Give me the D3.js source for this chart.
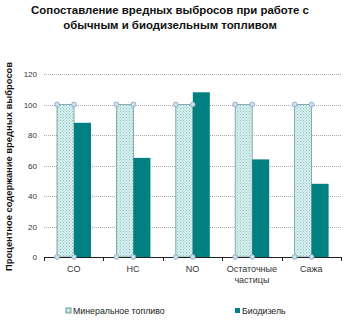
<!DOCTYPE html>
<html>
<head>
<meta charset="utf-8">
<script src="https://cdn.jsdelivr.net/npm/d3@7/dist/d3.min.js"></script>
<style>
  html, body { margin: 0; padding: 0; background: #fff; }
  svg { display: block; font-family: "Liberation Sans", Arial, sans-serif; }
</style>
</head>
<body>
<svg id="chart" width="344" height="323"></svg>
<script>
// Emission categories and relative emission levels (%)
const categories = ["CO", "HC", "NO", "Остаточные\nчастицы", "Сажа"];
const mineralValues = [100, 100, 100, 100, 100];
const biodieselValues = [88, 65, 108, 64, 48];
const seriesNames = ["Минеральное топливо", "Биодизель"];
const yTicks = [0, 20, 40, 60, 80, 100, 120];

const svg = d3.select("#chart");
const margin = { left: 44, right: 3, top: 74, bottom: 66 };
const W = 344, H = 323;

// Hatched fill for the mineral fuel bars
const defs = svg.append("defs");
const pat = defs.append("pattern")
  .attr("id", "hatch").attr("patternUnits", "userSpaceOnUse")
  .attr("width", 3).attr("height", 3);
pat.append("rect").attr("width", 3).attr("height", 3).attr("fill", "#d6eeee");
pat.append("rect").attr("x", 0).attr("y", 0).attr("width", 1).attr("height", 1).attr("fill", "#8cc4c4");
pat.append("rect").attr("x", 1.5).attr("y", 1.5).attr("width", 1).attr("height", 1).attr("fill", "#a8d4d4");

const x = d3.scaleBand().domain(categories).range([margin.left, W - margin.right]).paddingInner(0).paddingOuter(0);
const y = d3.scaleLinear().domain([0, 120]).range([H - margin.bottom, margin.top]);

// Title
svg.append("text").attr("x", 170).attr("y", 14).attr("text-anchor", "middle")
  .attr("font-size", 11.4).attr("font-weight", "bold").attr("fill", "#111")
  .text("Сопоставление вредных выбросов при работе с");
svg.append("text").attr("x", 170).attr("y", 29).attr("text-anchor", "middle")
  .attr("font-size", 11.4).attr("font-weight", "bold").attr("fill", "#111")
  .text("обычным и биодизельным топливом");

// Gridlines
svg.append("g").selectAll("line").data(yTicks.filter(d => d > 0)).join("line")
  .attr("x1", margin.left).attr("x2", W - margin.right)
  .attr("y1", d => Math.round(y(d)) + 0.5).attr("y2", d => Math.round(y(d)) + 0.5)
  .attr("stroke", "#aaa").attr("stroke-dasharray", "1,1").attr("stroke-width", 1);

// Y axis
const yAxis = svg.append("g").attr("transform", `translate(${margin.left},0)`)
  .call(d3.axisLeft(y).tickValues(yTicks).tickSize(0).tickPadding(7));
yAxis.select(".domain").remove();
yAxis.selectAll("text").attr("font-size", 8).attr("fill", "#333").attr("font-family", "Liberation Sans, Arial, sans-serif");

svg.append("text")
  .attr("transform", `translate(12,${(margin.top + H - margin.bottom) / 2 + 1}) rotate(-90)`)
  .attr("text-anchor", "middle").attr("font-size", 9.4).attr("font-weight", "bold").attr("fill", "#111")
  .text("Процентное содержание вредных  выбросов");

const barW = 17;
const offset = 13;

// Mineral fuel bars
svg.append("g").selectAll("rect").data(categories).join("rect")
  .attr("x", d => x(d) + offset)
  .attr("y", (d, i) => y(mineralValues[i]))
  .attr("width", barW)
  .attr("height", (d, i) => y(0) - y(mineralValues[i]))
  .attr("fill", "url(#hatch)")
  .attr("stroke", "#6f9a9a").attr("stroke-width", 0.8);

// Biodiesel bars
svg.append("g").selectAll("rect").data(categories).join("rect")
  .attr("x", d => x(d) + offset + barW)
  .attr("y", (d, i) => y(biodieselValues[i]))
  .attr("width", barW)
  .attr("height", (d, i) => y(0) - y(biodieselValues[i]))
  .attr("fill", "#008080");

// X axis
const xAxisG = svg.append("g").attr("transform", `translate(0,${y(0)})`);
xAxisG.append("line").attr("x1", margin.left).attr("x2", W - margin.right)
  .attr("y1", 0.5).attr("y2", 0.5).attr("stroke", "#222").attr("stroke-width", 1);
const tickXs = categories.map(c => x(c)).concat([x(categories[categories.length - 1]) + x.bandwidth()]);
xAxisG.selectAll("line.tk").data(tickXs).join("line").attr("class", "tk")
  .attr("x1", d => Math.round(d) + 0.5).attr("x2", d => Math.round(d) + 0.5)
  .attr("y1", 0).attr("y2", 4).attr("stroke", "#222");
xAxisG.selectAll("text").data(categories).join("text")
  .attr("x", d => x(d) + x.bandwidth() / 2)
  .attr("text-anchor", "middle").attr("font-size", 9).attr("fill", "#333")
  .each(function (d) {
    const lines = d.split("\n");
    d3.select(this).selectAll("tspan").data(lines).join("tspan")
      .attr("x", x(d) + x.bandwidth() / 2)
      .attr("y", (l, i) => 15 + i * 11)
      .text(l => l);
  });

// Corner markers on the mineral fuel bars
const corners = [];
categories.forEach((c, i) => {
  const x0 = x(c) + offset, x1 = x0 + barW;
  [x0, x1].forEach(px => {
    corners.push({ cx: px, cy: y(mineralValues[i]) });
    corners.push({ cx: px, cy: y(0) });
  });
});
svg.append("g").selectAll("circle").data(corners).join("circle")
  .attr("cx", d => d.cx).attr("cy", d => d.cy).attr("r", 2.4)
  .attr("fill", "#cfe0ee").attr("stroke", "#7fa5c2").attr("stroke-width", 0.8);

// Legend
const legend = svg.append("g").attr("font-size", 8.8).attr("fill", "#222");
const legendX = [66, 235];
seriesNames.forEach((name, i) => {
  const g = legend.append("g").attr("transform", `translate(${legendX[i]},308)`);
  g.append("rect").attr("x", 0).attr("y", 0).attr("width", 5).attr("height", 5)
    .attr("fill", i === 0 ? "url(#hatch)" : "#008080")
    .attr("stroke", i === 0 ? "#3a8a8a" : "none").attr("stroke-width", 0.8);
  g.append("text").attr("x", 7).attr("y", 6).attr("fill", "#222").text(name);
});
</script>
</body>
</html>
